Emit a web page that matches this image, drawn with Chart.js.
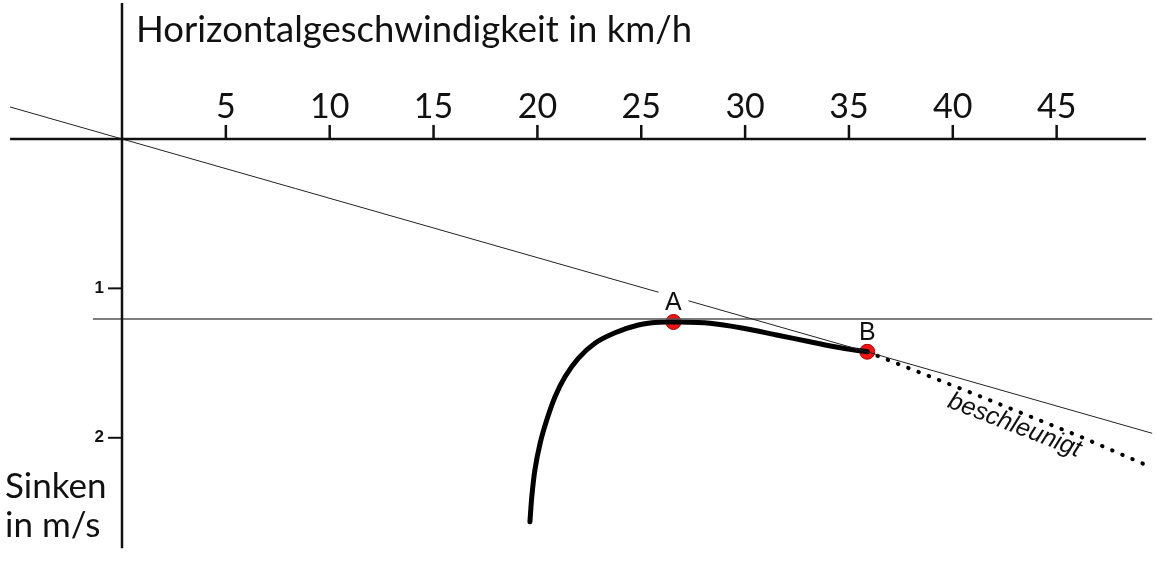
<!DOCTYPE html>
<html>
<head>
<meta charset="utf-8">
<script src="https://cdn.jsdelivr.net/npm/chart.js@4.4.1/dist/chart.umd.min.js"></script>
<style>
  html, body { margin: 0; padding: 0; background: #fff; }
  #wrap { width: 1160px; height: 563px; }
</style>
</head>
<body>
<div id="wrap"><canvas id="polar"></canvas></div>
<script>
// Geschwindigkeitspolare
const curveSpeed = [19.64, 19.73, 19.88, 20.13, 20.45, 20.85, 21.33, 21.97, 22.77, 23.74, 24.86, 25.82, 26.55,
                    28.31, 29.91, 31.52, 33.12, 34.73, 35.88];
const curveSink  = [2.562, 2.395, 2.215, 2.037, 1.881, 1.725, 1.591, 1.468, 1.367, 1.297, 1.245, 1.227, 1.225,
                    1.234, 1.267, 1.312, 1.357, 1.401, 1.424];
// beschleunigt (gepunktet)
const accelSpeed = [35.88, 41.45, 46.27, 49.6];
const accelSink  = [1.424, 1.73, 2.00, 2.20];
// Tangente durch den Ursprung
const tangentSpeed = [-5.39, 49.6];
const tangentSink  = [-0.214, 1.97];
// minimales Sinken (waagrechte Linie)
const minSinkSpeed = [-1.40, 49.6];
const minSinkValue = [1.205, 1.205];
// Punkte A und B
const pointLabels = ['A', 'B'];
const pointSpeed = [26.55, 35.88];
const pointSink  = [1.225, 1.424];
// Achsen
const xAxisRange = [-5.39, 49.3];
const yAxisRange = [-0.91, 2.74];
const xTicks = [5, 10, 15, 20, 25, 30, 35, 40, 45];
const yTicks = [1, 2];
const xTitle = 'Horizontalgeschwindigkeit in km/h';
const yTitle = ['Sinken', 'in m/s'];
const accelLabel = 'beschleunigt';
const accelLabelPos = { x: 42.85, y: 1.961 };

function toPoints(xs, ys) {
    return xs.map((x, i) => ({ x: x, y: ys[i] }));
}

const labelPlugin = {
    id: 'labels',
    afterDatasetsDraw(chart) {
        const ctx = chart.ctx;
        const xs = chart.scales.x;
        const ys = chart.scales.y;
        const x0 = xs.getPixelForValue(0);
        const y0 = ys.getPixelForValue(0);
        ctx.save();
        ctx.fillStyle = '#111';
        ctx.strokeStyle = '#111';
        ctx.lineWidth = 2.5;
        // x tick marks + labels
        ctx.font = '34px Lato';
        ctx.textAlign = 'center';
        ctx.textBaseline = 'alphabetic';
        xTicks.forEach(t => {
            const px = xs.getPixelForValue(t);
            ctx.beginPath();
            ctx.moveTo(px, y0 - 14);
            ctx.lineTo(px, y0);
            ctx.stroke();
            ctx.fillText(String(t), px, y0 - 21);
        });
        // y tick marks + labels
        ctx.lineWidth = 2;
        ctx.font = 'bold 17px "Liberation Sans"';
        ctx.textAlign = 'right';
        ctx.textBaseline = 'middle';
        yTicks.forEach(t => {
            const py = ys.getPixelForValue(t);
            ctx.beginPath();
            ctx.moveTo(x0 - 14, py);
            ctx.lineTo(x0, py);
            ctx.stroke();
            ctx.fillText(String(t), x0 - 18, py);
        });
        // axis titles
        ctx.font = '36.5px Lato';
        ctx.textAlign = 'left';
        ctx.textBaseline = 'alphabetic';
        ctx.fillText(xTitle, x0 + 14, 42);
        ctx.font = '35px Lato';
        ctx.fillText(yTitle[0], 5, 498);
        ctx.fillText(yTitle[1], 5, 537);
        // A / B labels
        ctx.font = '25px "Liberation Sans"';
        ctx.textAlign = 'center';
        ctx.textBaseline = 'middle';
        pointLabels.forEach((lab, i) => {
            const px = xs.getPixelForValue(pointSpeed[i]);
            const py = ys.getPixelForValue(pointSink[i]) - 19;
            ctx.fillStyle = '#fff';
            ctx.fillRect(px - 15, py - 11, 30, 22);
            ctx.fillStyle = '#111';
            ctx.fillText(lab, px, py);
        });
        // beschleunigt
        ctx.font = 'italic 25px "Liberation Sans"';
        ctx.textBaseline = 'alphabetic';
        ctx.translate(xs.getPixelForValue(accelLabelPos.x), ys.getPixelForValue(accelLabelPos.y));
        ctx.rotate(21 * Math.PI / 180);
        ctx.fillText(accelLabel, 0, 0);
        ctx.restore();
    }
};

const lineDefaults = { showLine: true, pointRadius: 0, fill: false };

new Chart(document.getElementById('polar'), {
    type: 'scatter',
    data: {
        datasets: [
            Object.assign({ data: toPoints(xAxisRange, [0, 0]), borderColor: '#111', borderWidth: 2.5 }, lineDefaults),
            Object.assign({ data: toPoints([0, 0], yAxisRange), borderColor: '#111', borderWidth: 2.5 }, lineDefaults),
            Object.assign({ data: toPoints(tangentSpeed, tangentSink), borderColor: '#222', borderWidth: 1 }, lineDefaults),
            Object.assign({ data: toPoints(minSinkSpeed, minSinkValue), borderColor: '#555', borderWidth: 1.3 }, lineDefaults),
            Object.assign({ data: toPoints(accelSpeed, accelSink), borderColor: '#000', borderWidth: 4,
                borderDash: [0.5, 10.5], borderCapStyle: 'round' }, lineDefaults),
            Object.assign({ data: toPoints(curveSpeed, curveSink), borderColor: '#000', borderWidth: 5,
                tension: 0.3, borderCapStyle: 'round' }, lineDefaults),
            { data: toPoints(pointSpeed, pointSink), showLine: false, pointRadius: 7.5,
              backgroundColor: '#f01414', borderColor: '#a80000', borderWidth: 1 }
        ]
    },
    options: {
        responsive: true,
        maintainAspectRatio: false,
        animation: false,
        layout: { padding: 0, autoPadding: false },
        plugins: { legend: { display: false }, tooltip: { enabled: false } },
        scales: {
            x: { type: 'linear', display: false, min: -5.874, max: 49.976 },
            y: { type: 'linear', display: false, reverse: true, min: -0.930, max: 2.838 }
        }
    },
    plugins: [labelPlugin]
});
</script>
</body>
</html>
